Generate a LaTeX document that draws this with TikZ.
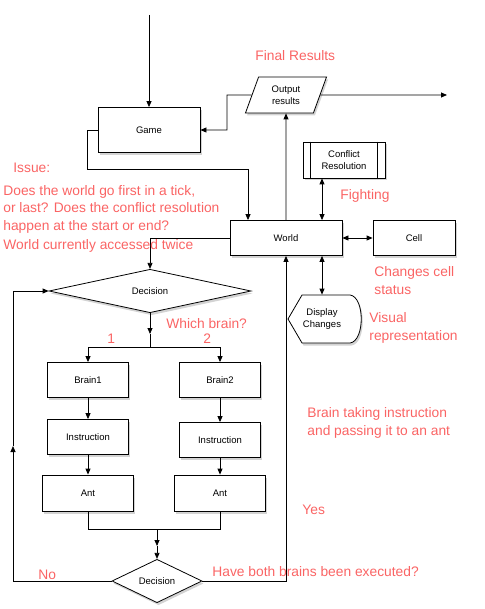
\documentclass[tikz,border=0pt]{standalone}
\usepackage{fontspec}
\setmainfont{Liberation Sans}
\usetikzlibrary{shapes.geometric,arrows.meta,shadows}
\definecolor{notered}{RGB}{250,100,100}

\begin{document}
\begin{tikzpicture}[x=1pt,y=-1pt,line width=0.8pt,
    >={Triangle[length=6pt,width=5pt]},
    shade/.style={drop shadow={opacity=0.35,shadow xshift=1.5pt,shadow yshift=-2.5pt}},
    box/.style={draw,fill=white,rectangle,align=center,inner sep=0pt,
        font=\fontsize{9.5}{12}\selectfont,shade},
    decision/.style={box,diamond},
    note/.style={text=notered,font=\fontsize{13.8}{18}\selectfont,
        anchor=base west,inner sep=0pt,align=left}]
    \useasboundingbox (0,0) rectangle (484,609);
    % top part
    \node[box,minimum width=102,minimum height=45] (Game) at (149,130) {Game};
    \node[box,trapezium,trapezium left angle=70,trapezium right angle=110,
        minimum width=81,minimum height=36] (Output) at (286,95) {Output\\results};
    \node[box,minimum width=112,minimum height=35] (World) at (286,238) {World};
    \node[box,minimum width=82,minimum height=35] (Cell) at (414,238) {Cell};
    \node[box,minimum width=82,minimum height=36] (Conflict) at (344,160) {Conflict\\Resolution};
    \draw ([xshift=8]Conflict.north west) -- ([xshift=8]Conflict.south west);
    \draw ([xshift=-8]Conflict.north east) -- ([xshift=-8]Conflict.south east);
    \draw[fill=white,shade] (288,319) -- (302,295) -- (350,295)
        .. controls (365,297) and (365,341) .. (350,343) -- (302,343) -- cycle;
    \node[align=center,font=\fontsize{9.5}{12}\selectfont,minimum width=73,minimum height=48]
        (Display) at (322,319) {Display\\Changes};
    % brains
    \node[decision,minimum width=202,minimum height=36] (Decision1) at (150,291) {Decision};
    \node[box,minimum width=81,minimum height=35] (Brain1) at (88,380) {Brain1};
    \node[box,minimum width=81,minimum height=35] (Brain2) at (220,380) {Brain2};
    \node[box,minimum width=81,minimum height=35] (Instr1) at (88,437) {Instruction};
    \node[box,minimum width=81,minimum height=35] (Instr2) at (220,440) {Instruction};
    \node[box,minimum width=91,minimum height=36] (Ant1) at (88,493) {Ant};
    \node[box,minimum width=91,minimum height=36] (Ant2) at (220,493) {Ant};
    \node[decision,minimum width=90,minimum height=36] (Decision2) at (157,581) {Decision};
    \coordinate (Start) at (149,15);
    \coordinate (End) at (447,95);
    \coordinate (Split) at (150,334);
    \coordinate (Fork) at (150,347);
    \coordinate (Join) at (157,529);
    \coordinate (Mid) at (157,546);
    \coordinate (Loop) at (13,446);
    % connectors
    \draw[->] (Start) -- (Game.north);
    \draw[->] (Output.east) -- (End);
    \draw[->] (Output.west) -- (227,95) |- (Game.east);
    \draw[->] (Game.west) -- (87,130) -- (87,169) -- (248,169) -- ([xshift=-38]World.north);
    \draw[->] (World.north) -- (Output.south);
    \draw[<->] ([xshift=-22]Conflict.south) -- ([xshift=36]World.north);
    \draw[<->] (World) -- (Cell);
    \draw[<->] ([xshift=36]World.south) -- (Display.north);
    \draw[->] (World.west) -| (Decision1.north);
    \draw[->] (Decision1.south) -- (Split);
    \draw (Split) -- (Fork);
    \draw[->] (Fork) -| (Brain1.north);
    \draw[->] (Fork) -| (Brain2.north);
    \draw[->] (Brain1) -- (Instr1);
    \draw[->] (Instr1) -- (Ant1);
    \draw[->] (Brain2) -- (Instr2);
    \draw[->] (Instr2) -- (Ant2);
    \draw (Ant1.south) |- (Join);
    \draw (Ant2.south) |- (Join);
    \draw[->] (Join) -- (Mid);
    \draw[->] (Mid) -- (Decision2.north);
    \draw[->] (Decision2.west) -| (Loop);
    \draw[->] (Loop) |- (Decision1.west);
    \draw[->] (Decision2.east) -| (World.south);
    % notes (multi-line ones sit on their last line)
    \node[note] at (255,61) {Final Results};
    \node[note] at (13,173) {Issue:};
    \node[note] at (3,249) {Does the world go first in a tick,\\or last? Does the conflict resolution\\happen at the start or end?\\World currently accessed twice};
    \node[note] at (340,200) {Fighting};
    \node[note] at (374,294) {Changes cell\\status};
    \node[note] at (369,340) {Visual\\representation};
    \node[note] at (166,328) {Which brain?};
    \node[note] at (107,343) {1};
    \node[note] at (203,343) {2};
    \node[note] at (307,435) {Brain taking instruction\\and passing it to an ant};
    \node[note] at (302,514) {Yes};
    \node[note] at (38,579) {No};
    \node[note] at (212,576) {Have both brains been executed?};
\end{tikzpicture}
\end{document}
